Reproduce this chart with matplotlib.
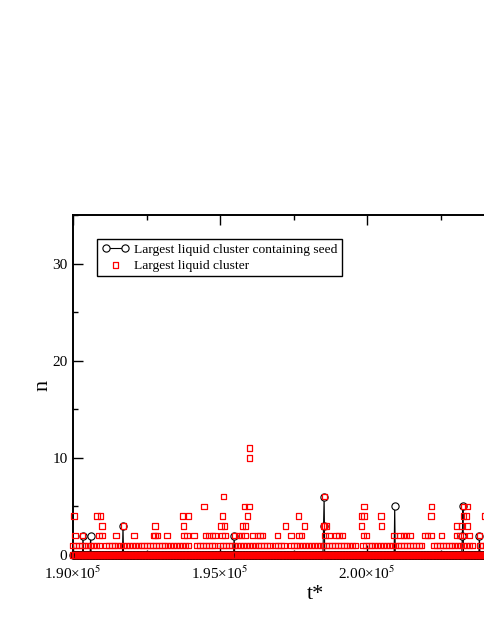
import numpy as np
import matplotlib
matplotlib.use("Agg")
import matplotlib.pyplot as plt
from matplotlib.ticker import MultipleLocator, FuncFormatter

plt.rcParams['font.family'] = ['Liberation Serif', 'DejaVu Serif']
plt.rcParams['mathtext.fontset'] = 'stix'

t_start, t_end = 190000, 204100

# largest cluster containing seed (black): only the nonzero samples, rest are 0
seed_t = [190340, 190600, 191710, 195490, 198530, 198550, 200950, 203250, 203270, 203820]
seed_n = [2, 2, 3, 2, 3, 6, 5, 2, 5, 2]

# largest liquid cluster (red)
# stretches of time where n = 1
runs_n1 = [(190000, 190980), (191120, 193980), (194220, 194900), (195000, 196770),
           (196870, 197210), (197410, 199660), (199860, 201900), (202280, 203670),
           (203840, 204100)]
t_n2 = [190070, 190330, 190890, 190980, 191460, 192080, 192730, 192790, 192870, 193190,
        193780, 193870, 194120, 194510, 194630, 194740, 194830, 195060, 195170, 195490,
        195620, 195740, 195850, 196100, 196280, 196360, 196440, 196960, 197410, 197690,
        197780, 198570, 198710, 198940, 199050, 199160, 199870, 199990, 200920, 201120,
        201230, 201350, 201460, 201970, 202050, 202170, 202540, 203050, 203160, 203270,
        203480, 203820]
t_n3 = [190980, 191710, 192790, 193750, 195030, 195150, 195760, 195870, 197230, 197870,
        198510, 198550, 198630, 199820, 200500, 203050, 203220, 203410]
t_n4 = [190030, 190810, 190940, 193730, 193920, 195080, 195940, 197660, 199820, 199900,
        200470, 202170, 203270, 203390, 204010]
t_n5 = [194460, 195830, 195990, 199900, 202200, 203270, 203410]
t_n6 = [195110, 198550]
t_n10 = [196000]
t_n11 = [196000]

# build the series
seed_grid = np.arange(t_start, t_end, 20)
seed_vals = np.zeros(len(seed_grid))
for t, v in zip(seed_t, seed_n):
    seed_vals[(t - t_start) // 20] = v

red_t = list(np.arange(t_start, t_end, 50))
red_n = [0] * len(red_t)
for a, b in runs_n1:
    ts = list(np.arange(a, b, 100))
    red_t += ts
    red_n += [1] * len(ts)
for lev, ts in [(2, t_n2), (3, t_n3), (4, t_n4), (5, t_n5), (6, t_n6), (10, t_n10), (11, t_n11)]:
    red_t += ts
    red_n += [lev] * len(ts)

fig = plt.figure(figsize=(4.85, 6.27), dpi=100)
ax = fig.add_axes([73 / 485, 72 / 627, 485.2 / 485, 340 / 627])

ax.plot(seed_grid, seed_vals, color='k', lw=0.8, marker='o', ms=5.2, mfc='w', mec='k',
        mew=0.8, clip_on=False, zorder=2, label='Largest liquid cluster containing seed')
ax.scatter(red_t, red_n, marker='s', s=3.9 ** 2, facecolors='none', edgecolors='red',
           linewidths=0.9, clip_on=False, zorder=3, label='Largest liquid cluster')

ax.set_xlim(190000, 206500)
ax.set_ylim(0, 35)
ax.xaxis.set_major_locator(MultipleLocator(5000))
ax.xaxis.set_minor_locator(MultipleLocator(2500))
ax.yaxis.set_major_locator(MultipleLocator(10))
ax.yaxis.set_minor_locator(MultipleLocator(5))
# labels past the right edge of the picture are left out
ax.xaxis.set_major_formatter(FuncFormatter(
    lambda v, p: f"{v / 1e5:.2f}×10$^{{5}}$" if v < 204000 else ""))
ax.tick_params(which='both', direction='in', top=True, right=True, width=1, labelsize=11)
ax.tick_params(which='major', length=7)
ax.tick_params(which='minor', length=3.5)
ax.tick_params(axis='x', pad=7)
ax.tick_params(axis='y', pad=4)
for s in ax.spines.values():
    s.set_linewidth(1.4)

ax.set_xlabel('t*', fontsize=16, labelpad=2)
ax.set_ylabel('n', fontsize=16, labelpad=0)

leg = ax.legend(loc='upper left', bbox_to_anchor=(0.05, 0.93), borderaxespad=0,
                numpoints=2, scatterpoints=1, fontsize=9.7, fancybox=False,
                edgecolor='k', framealpha=1, handlelength=2, handletextpad=0.4,
                labelspacing=0.25, borderpad=0.35)
leg.get_frame().set_linewidth(1)

fig.savefig('out.png', dpi=100)
